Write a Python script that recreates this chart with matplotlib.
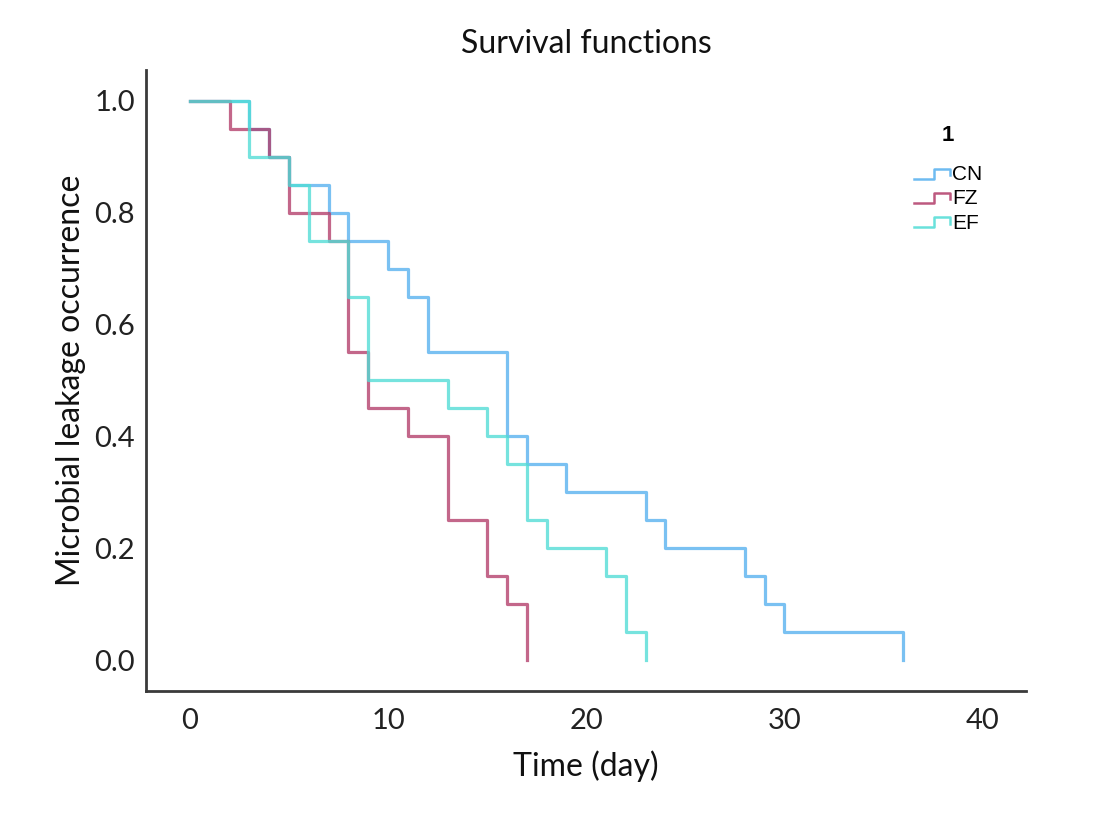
import matplotlib
matplotlib.use("Agg")
import matplotlib.pyplot as plt
from matplotlib.lines import Line2D
from matplotlib.legend_handler import HandlerLine2D

# Kaplan-Meier steps (day, survival)
cn_t = [0, 3, 4, 5, 7, 8, 10, 11, 12, 16, 17, 19, 23, 24, 28, 29, 30, 36]
cn_s = [1.0, 0.95, 0.9, 0.85, 0.8, 0.75, 0.7, 0.65, 0.55, 0.4, 0.35, 0.3,
        0.25, 0.2, 0.15, 0.1, 0.05, 0.0]

fz_t = [0, 2, 4, 5, 7, 8, 9, 11, 13, 15, 16, 17]
fz_s = [1.0, 0.95, 0.9, 0.8, 0.75, 0.55, 0.45, 0.4, 0.25, 0.15, 0.1, 0.0]

ef_t = [0, 3, 5, 6, 8, 9, 13, 15, 16, 17, 18, 21, 22, 23]
ef_s = [1.0, 0.9, 0.85, 0.75, 0.65, 0.5, 0.45, 0.4, 0.35, 0.25, 0.2, 0.15,
        0.05, 0.0]

groups = ["CN", "FZ", "EF"]
colors = ["#55b0ef", "#b23c69", "#4fdcd5"]

x_ticks = [0, 10, 20, 30, 40]
y_ticks = [0.0, 0.2, 0.4, 0.6, 0.8, 1.0]

font = "Lato"


# step shaped legend handle
class StepHandler(HandlerLine2D):
    def create_artists(self, legend, orig, xd, yd, w, h, fontsize, trans):
        xs = [-xd, -xd + 0.55 * w, -xd + 0.55 * w, -xd + w, -xd + w]
        ys = [-yd + 0.1 * h, -yd + 0.1 * h, -yd + 0.8 * h, -yd + 0.8 * h, -yd + 0.35 * h]
        ln = Line2D(xs, ys, color=orig.get_color(), lw=1.8, alpha=0.85)
        ln.set_transform(trans)
        return [ln]


fig = plt.figure(figsize=(11.12, 8.14), dpi=100)
ax = fig.add_axes([0.1313, 0.1511, 0.7914, 0.763])

lines = []
for t, s, c, g in zip([cn_t, fz_t, ef_t], [cn_s, fz_s, ef_s], colors, groups):
    ln, = ax.step(t, s, where="post", color=c, lw=2.3, alpha=0.78, label=g)
    lines.append(ln)

ax.set_xlim(-2.22, 42.2)
ax.set_ylim(-0.055, 1.055)
ax.set_xticks(x_ticks)
ax.set_xticklabels([str(v) for v in x_ticks])
ax.set_yticks(y_ticks)
ax.set_yticklabels(["%.1f" % v for v in y_ticks])
ax.tick_params(length=0, labelsize=21, colors="#222222")
ax.tick_params(axis="x", pad=12)
ax.tick_params(axis="y", pad=8)
for lab in ax.get_xticklabels() + ax.get_yticklabels():
    lab.set_fontfamily(font)

for side in ["top", "right"]:
    ax.spines[side].set_visible(False)
for side in ["left", "bottom"]:
    ax.spines[side].set_color("#3a3a3a")
    ax.spines[side].set_linewidth(2)

ax.set_title("Survival functions", fontsize=23, family=font, color="#111111", pad=12)
ax.set_xlabel("Time (day)", fontsize=23, family=font, color="#111111", labelpad=12)
ax.set_ylabel("Microbial leakage occurrence", fontsize=23, family=font,
              color="#111111", labelpad=6)

leg = ax.legend(handles=lines, title="1", loc="upper left",
                bbox_to_anchor=(895 / 1112, 1 - 106 / 814),
                bbox_transform=fig.transFigure, frameon=False,
                handler_map={Line2D: StepHandler()},
                prop={"family": "Liberation Sans", "size": 15},
                handlelength=1.75, handletextpad=0.1, labelspacing=0.25)
leg.get_title().set_fontweight("bold")
leg.get_title().set_fontsize(16)
leg.get_title().set_family("Liberation Sans")
# wider gap between the "1" title and the entries
leg._legend_box.sep = 14

fig.savefig("out.png", dpi=100)
